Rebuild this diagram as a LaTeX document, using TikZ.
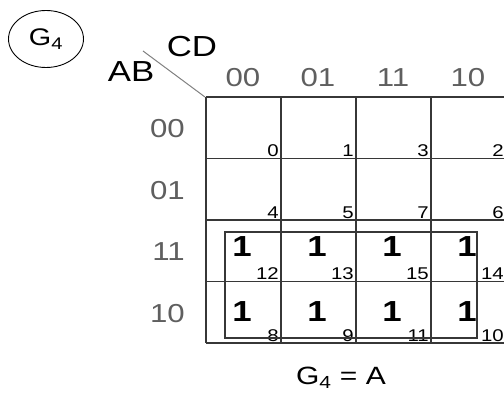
\documentclass[tikz,border=0pt]{standalone}
\usepackage{fontspec}
\setmainfont[FakeStretch=1.2]{Liberation Sans}
\usetikzlibrary{shapes.geometric}
\definecolor{gridgray}{RGB}{55,55,55}
\definecolor{labelgray}{RGB}{95,95,95}

\begin{document}
\begin{tikzpicture}[x=1pt,y=-1pt,every node/.style={inner sep=0pt},
    hdr/.style={text=labelgray,font=\fontsize{26}{26}\selectfont},
    cellnum/.style={anchor=south east,font=\fontsize{17}{17}\selectfont},
    one/.style={font=\fontsize{29}{29}\selectfont\bfseries},
    gridline/.style={gridgray,line width=1.2pt}]
  \useasboundingbox (0,0) rectangle (504,398);
  % function name
  \node[draw,ellipse,line width=0.9pt,minimum width=75pt,minimum height=57pt,
    font=\fontsize{24}{24}\selectfont] (gname) at (46,39) {G\textsubscript{4}};
  % corner labels
  \coordinate (corner) at (205,97);
  \coordinate (slash) at (143,51);
  \draw[gray,line width=1pt] (slash) -- (corner);
  \node[font=\fontsize{29}{29}\selectfont] (cd) at (192,47) {CD};
  \node[font=\fontsize{29}{29}\selectfont] (ab) at (131,72) {AB};
  % grid
  \foreach \i in {0,...,4}{
    \draw[gridline] (206+75*\i,97) -- (206+75*\i,343);
    \draw[gridline] (206,97+61.5*\i) -- (506,97+61.5*\i);
  }
  \foreach \c/\t in {0/00,1/01,2/11,3/10}{
    \node[hdr] (col\t) at (243+75*\c,78) {\t};
  }
  \foreach \r/\t in {0/00,1/01,2/11,3/10}{
    \node[hdr,anchor=east] (row\t) at (185,129+61.5*\r) {\t};
  }
  % minterm numbers
  \foreach \m/\c/\r in {0/0/0,1/1/0,3/2/0,2/3/0,4/0/1,5/1/1,7/2/1,6/3/1,
      12/0/2,13/1/2,15/2/2,14/3/2,8/0/3,9/1/3,11/2/3,10/3/3}{
    \node[cellnum] (m\m) at (279+75*\c,157+61.5*\r) {\m};
  }
  % ones
  \foreach \m/\c/\r in {12/0/2,13/1/2,15/2/2,14/3/2,8/0/3,9/1/3,11/2/3,10/3/3}{
    \node[one] (one\m) at (242+75*\c,{247+65*(\r-2)}) {1};
  }
  % group A
  \draw[gridline] (225,232) rectangle (477,338);
  \node[font=\fontsize{25}{25}\selectfont] (result) at (341,378) {G\textsubscript{4} = A};
\end{tikzpicture}
\end{document}
